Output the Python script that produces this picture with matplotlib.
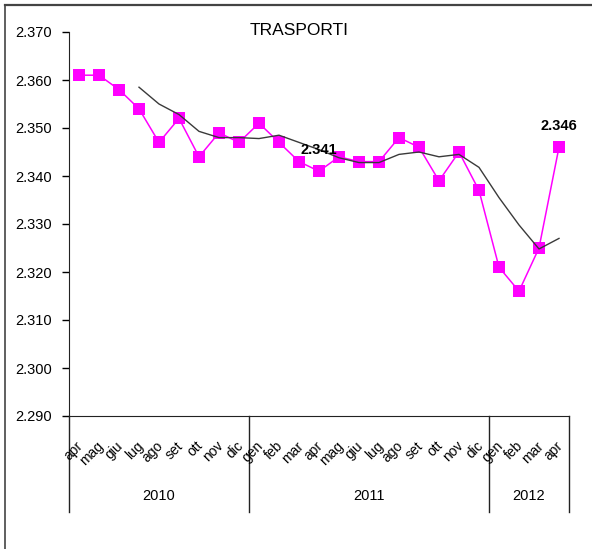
import matplotlib
matplotlib.use("Agg")
from matplotlib import pyplot as plt
from matplotlib.lines import Line2D
import matplotlib.transforms as mtransforms

plt.rcParams['font.family'] = ['Liberation Sans', 'DejaVu Sans']

# dati
mesi = ['apr', 'mag', 'giu', 'lug', 'ago', 'set', 'ott', 'nov', 'dic',
        'gen', 'feb', 'mar', 'apr', 'mag', 'giu', 'lug', 'ago', 'set', 'ott', 'nov', 'dic',
        'gen', 'feb', 'mar', 'apr']
anni = ['2010', '2011', '2012']
mesi_per_anno = [9, 12, 4]
valori = [2.361, 2.361, 2.358, 2.354, 2.347, 2.352, 2.344, 2.349, 2.347,
          2.351, 2.347, 2.343, 2.341, 2.344, 2.343, 2.343, 2.348, 2.346, 2.339, 2.345, 2.337,
          2.321, 2.316, 2.325, 2.346]
# media mobile (dal lug 2010)
media = [2.3585, 2.3550, 2.3528, 2.3493, 2.3480, 2.3480,
         2.3478, 2.3485, 2.3470, 2.3455, 2.3438, 2.3428, 2.3428, 2.3445, 2.3450, 2.3440, 2.3445, 2.3418,
         2.3355, 2.3298, 2.3248, 2.3270]
etichette = {12: '2.341', 24: '2.346'}

fig = plt.figure(figsize=(5.92, 5.49), dpi=100)
ax = fig.add_axes([69/592, 1 - 416/549, 500/592, 384/549])

x = list(range(len(valori)))
ax.plot(x, valori, color='#FF00FF', linewidth=1.1, marker='s', markersize=8.4,
        markeredgewidth=0, zorder=3)
x_media = list(range(len(valori) - len(media), len(valori)))
ax.plot(x_media, media, color='#3a3a3a', linewidth=1.0, zorder=4)

for i, testo in etichette.items():
    ax.annotate(testo, (i, valori[i]), xytext=(0, 21), textcoords='offset pixels',
                ha='center', va='center', fontsize=10.5, fontweight='bold', zorder=5)

ax.set_xlim(-0.5, len(valori) - 0.5)
ax.set_ylim(2.290, 2.370)
ax.set_yticks([2.290 + 0.01 * k for k in range(9)])
ax.set_yticklabels(['{:.3f}'.format(2.290 + 0.01 * k) for k in range(9)], fontsize=10.5)
ax.tick_params(axis='y', direction='out', length=5, width=1, pad=7)
ax.set_xticks([])
for s in ['top', 'right']:
    ax.spines[s].set_visible(False)
ax.spines['left'].set_color('#222222')
ax.spines['bottom'].set_color('#222222')

ax.text(0.46, 1.005, 'TRASPORTI', transform=ax.transAxes, ha='center', va='center',
        fontsize=12.5)

# etichette mesi
trans = mtransforms.blended_transform_factory(ax.transData, ax.transAxes)
for i, m in enumerate(mesi):
    ax.text(i + 0.1, -0.072, m, transform=trans, rotation=45, rotation_mode='anchor',
            ha='right', va='center', fontsize=10)

# separatori anni
pos = -0.5
bordi = [pos]
for n in mesi_per_anno:
    pos += n
    bordi.append(pos)
for b in bordi:
    ax.add_line(Line2D([b, b], [0, -0.25], transform=trans, color='#222222',
                       linewidth=1, clip_on=False))
for k, anno in enumerate(anni):
    ax.text((bordi[k] + bordi[k + 1]) / 2, -0.208, anno, transform=trans,
            ha='center', va='center', fontsize=10.5)

# cornice
fig.add_artist(Line2D([5/592, 1], [1 - 5/549, 1 - 5/549], color='#444444', linewidth=1.6))
fig.add_artist(Line2D([5/592, 5/592], [0, 1 - 5/549], color='#444444', linewidth=1.2))

fig.savefig('out.png', dpi=100)
